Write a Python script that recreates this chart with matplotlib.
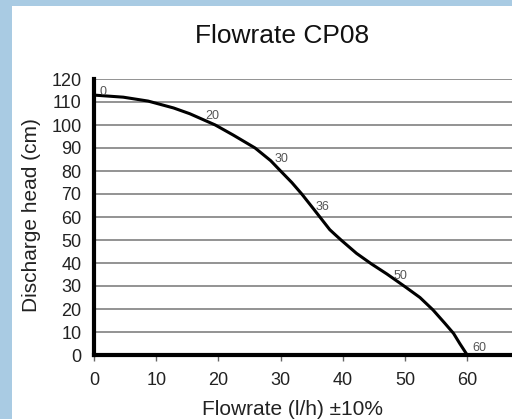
import matplotlib
matplotlib.use("Agg")
import matplotlib.pyplot as plt
from matplotlib.patches import Rectangle

plt.rcParams['font.family'] = ['Liberation Sans', 'DejaVu Sans']

# curve: flowrate (l/h) vs discharge head (cm)
flow = [0, 4.7, 8.7, 12.8, 15.4, 19.5, 22.4, 25.9, 28.4, 30, 31.8, 33.4, 35.3,
        36.6, 37.9, 38.9, 39.8, 42.2, 44.6, 47.1, 50, 52.4, 54.5, 56.4, 57.8, 58.8, 60]
head = [113, 112.1, 110.4, 107.4, 104.9, 100, 95.6, 90, 84.5, 80, 75, 70, 63.5,
        59, 54.5, 52, 49.8, 44.2, 39.6, 35.2, 29.7, 25, 19.6, 13.8, 9.4, 5, 0]

# marked points along the curve
mark_flow = [0, 20, 30, 36, 50, 60]
mark_head = [113, 100, 80, 61, 30, 0]

x_ticks = [0, 10, 20, 30, 40, 50, 60]
y_ticks = list(range(0, 121, 10))

W, H = 512, 419
fig = plt.figure(figsize=(W / 100, H / 100), dpi=100, facecolor="#a9cbe3")
# white panel inside the blue frame
fig.patches.append(Rectangle((12 / W, 0), 1 - 12 / W, 1 - 6 / H,
                             transform=fig.transFigure, facecolor="white",
                             edgecolor="none", zorder=-1))

ax = fig.add_axes([94 / W, (H - 355) / H, (W - 94) / W, 276 / H])
ax.set_zorder(2)
ax.set_facecolor("white")
ax.set_xlim(0, 67.2)
ax.set_ylim(0, 120)

for yv in y_ticks[1:]:
    ax.axhline(yv, color="#808080", lw=1.2, zorder=1)

ax.plot(flow, head, color="black", lw=2.2, zorder=3,
        solid_capstyle="round", solid_joinstyle="round")

# label offsets in points (text position relative to the marked point)
offsets = [(3.6, 0), (-9.4, 4.3), (-4.3, 6.5), (-1.4, 3.6), (-8.6, 5), (3.6, 2.9)]
for fx, hy, off in zip(mark_flow, mark_head, offsets):
    ax.annotate(str(fx), (fx, hy), xytext=off, textcoords="offset points",
                fontsize=9, color="#555555", ha="left", va="baseline", zorder=4)

for s in ["top", "right"]:
    ax.spines[s].set_visible(False)
ax.spines["left"].set_linewidth(3)
ax.spines["bottom"].set_linewidth(3)
ax.spines["left"].set_zorder(5)
ax.spines["bottom"].set_zorder(5)

ax.set_xticks(x_ticks)
ax.set_yticks(y_ticks)
ax.tick_params(axis="x", length=4, width=1, color="#666666", labelsize=13,
               labelcolor="#222222", pad=8)
ax.tick_params(axis="y", length=0, labelsize=13, labelcolor="#222222", pad=9)

fig.text(282 / W, 1 - 36 / H, "Flowrate CP08", fontsize=19, color="#111111",
         ha="center", va="center")
fig.text(293 / W, 1 - 409 / H, "Flowrate (l/h) \u00b110%", fontsize=15,
         color="#222222", ha="center", va="center")
fig.text(32 / W, 1 - 215 / H, "Discharge head (cm)", fontsize=15,
         color="#222222", ha="center", va="center", rotation=90)

fig.savefig("out.png", dpi=100, facecolor=fig.get_facecolor())
